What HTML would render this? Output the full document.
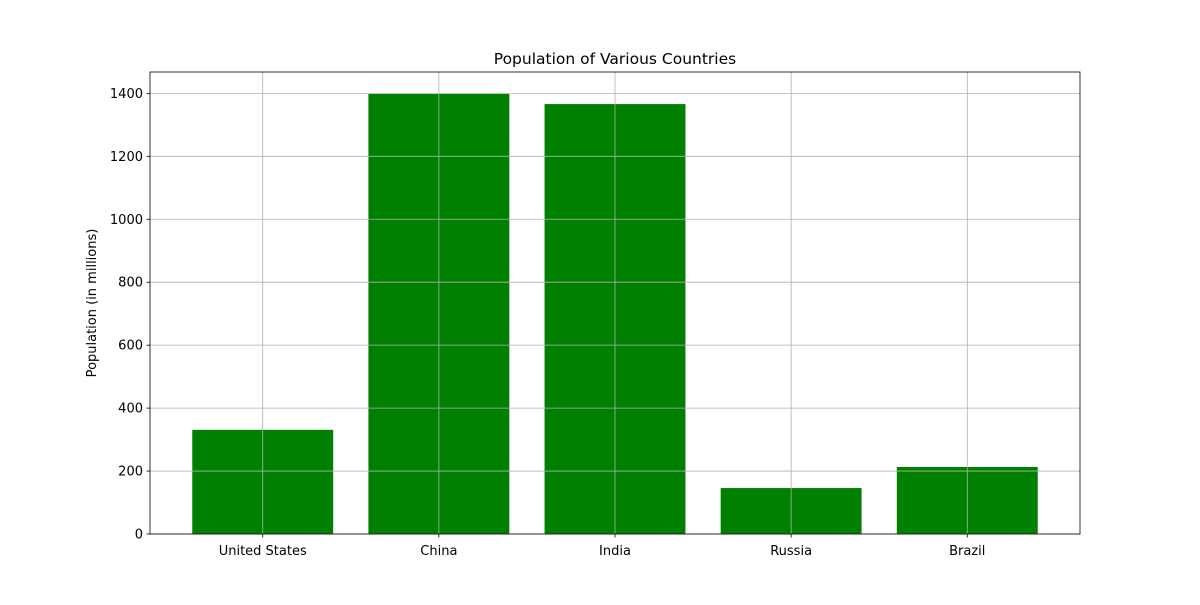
<!DOCTYPE html>
<html><head><meta charset="utf-8"><style>
body{margin:0;background:#fff;}
text{font-family:"DejaVu Sans","Liberation Sans",sans-serif;fill:#000;}
</style></head><body>
<svg id="chart" width="1200" height="600" xmlns="http://www.w3.org/2000/svg">
<rect width="1200" height="600" fill="#fff"/>
<text x="615" y="64" font-size="15.5" text-anchor="middle">Population of Various Countries</text>
<text transform="translate(96,303) rotate(-90)" font-size="13" text-anchor="middle">Population (in millions)</text>
<g id="plot"></g>
</svg>
<script>
const categories = ["United States","China","India","Russia","Brazil"];
const populations = [331, 1398, 1366, 146, 213];
const yTicks = [0,200,400,600,800,1000,1200,1400];
const L=150,R=1080,T=72,B=534;
const xmin=-0.64,xmax=categories.length-1+0.64;
const ymax=Math.max(...populations)*1.05;
const x=v=>L+(v-xmin)/(xmax-xmin)*(R-L);
const y=v=>B-v/ymax*(B-T);
const g=document.getElementById('plot');
const NS="http://www.w3.org/2000/svg";
function mk(tag,attrs){const e=document.createElementNS(NS,tag);for(const k in attrs)e.setAttribute(k,attrs[k]);g.appendChild(e);return e;}
const bw=(x(0.8)-x(0));
populations.forEach((v,i)=>{
  const r=mk('rect',{x:x(i)-bw/2,y:y(v),width:bw,height:B-y(v),fill:'#008000'});
  
  
});
yTicks.forEach(t=>{
  const l=mk('line',{x1:L,x2:R,y1:y(t),y2:y(t),stroke:'#b0b0b0','stroke-width':0.8});
  
  
  mk('line',{x1:L-3.5,x2:L,y1:y(t),y2:y(t),stroke:'#000','stroke-width':0.8});
  const tx=mk('text',{x:L-7,y:y(t)+4.5,'font-size':13,'text-anchor':'end'});
  tx.textContent=t;
  
  
});
categories.forEach((c,i)=>{
  const l=mk('line',{x1:x(i),x2:x(i),y1:T,y2:B,stroke:'#b0b0b0','stroke-width':0.8});
  
  
  mk('line',{x1:x(i),x2:x(i),y1:B,y2:B+3.5,stroke:'#000','stroke-width':0.8});
  const tx=mk('text',{x:x(i),y:B+21,'font-size':13,'text-anchor':'middle'});
  tx.textContent=c;
  
  
});
const f=mk('rect',{x:L,y:T,width:R-L,height:B-T,fill:'none',stroke:'#000','stroke-width':0.8});


</script>
</body></html>
